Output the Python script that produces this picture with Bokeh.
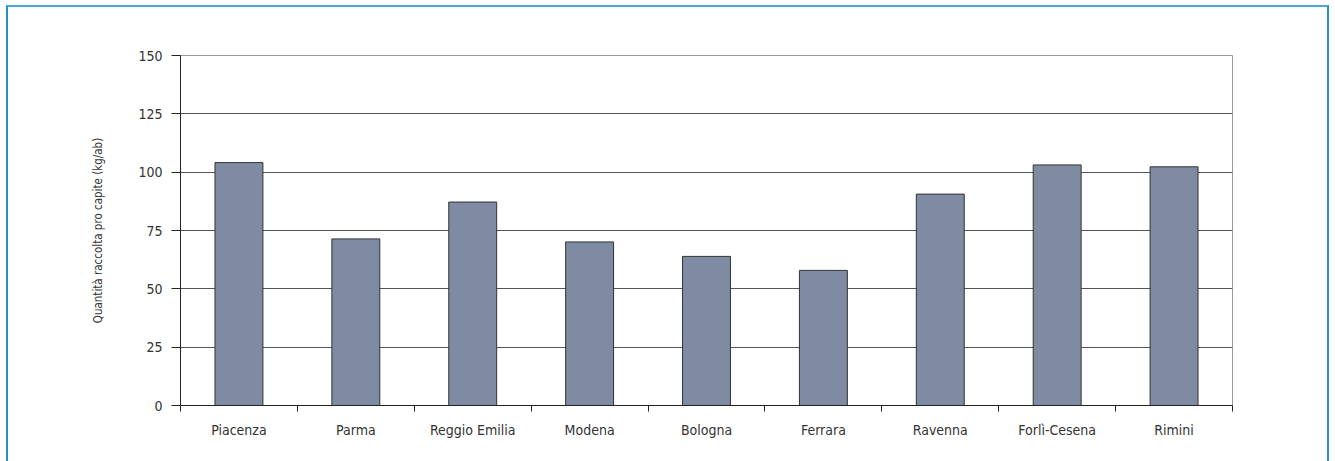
from bokeh.plotting import figure
from bokeh.models import FixedTicker, Range1d, ColumnDataSource
from bokeh.layouts import column
from bokeh.embed import file_html
from bokeh.resources import INLINE

categories = ["Piacenza", "Parma", "Reggio Emilia", "Modena", "Bologna",
              "Ferrara", "Ravenna", "Forlì-Cesena", "Rimini"]
values = [104.1, 71.4, 87.2, 70.1, 63.9, 57.9, 90.6, 103.1, 102.3]
y_ticks = [0, 25, 50, 75, 100, 125, 150]

FONT = "DejaVu Sans Condensed"
TXT = "#333333"

centers = [i + 0.5 for i in range(len(categories))]
src = ColumnDataSource(dict(x=centers, top=values))

p = figure(width=1319, height=454, output_backend="svg", toolbar_location=None,
           x_range=Range1d(0, len(categories)), y_range=Range1d(0, 150),
           min_border_left=172, min_border_right=95, min_border_top=48, min_border_bottom=56)

p.vbar(x="x", top="top", width=0.41, bottom=0, source=src,
       fill_color="#7f8ba3", line_color="#333333", line_width=1)

p.outline_line_color = "#999999"
p.xgrid.grid_line_color = None
p.ygrid.grid_line_color = "#555555"
p.ygrid.grid_line_width = 1
p.ygrid.ticker = FixedTicker(ticks=y_ticks)

p.yaxis.ticker = FixedTicker(ticks=y_ticks)
p.yaxis.major_tick_out = 9
p.yaxis.major_tick_in = 0
p.yaxis.minor_tick_line_color = None
p.yaxis.axis_line_color = "#222222"
p.yaxis.major_tick_line_color = "#222222"
p.yaxis.major_label_standoff = 9
p.yaxis.axis_label = "Quantità raccolta pro capite (kg/ab)"
p.yaxis.axis_label_standoff = 30
p.yaxis.axis_label_text_font = FONT
p.yaxis.axis_label_text_font_size = "11.5px"
p.yaxis.axis_label_text_font_style = "normal"
p.yaxis.axis_label_text_color = TXT

p.xaxis.ticker = FixedTicker(ticks=centers, minor_ticks=list(range(len(categories) + 1)))
p.xaxis.major_label_overrides = {c: n for c, n in zip(centers, categories)}
p.xaxis.major_tick_line_color = None
p.xaxis.major_tick_out = 6
p.xaxis.minor_tick_out = 6
p.xaxis.minor_tick_in = 0
p.xaxis.minor_tick_line_color = "#222222"
p.xaxis.axis_line_color = "#222222"
p.xaxis.major_label_standoff = 10

for ax in (p.xaxis, p.yaxis):
    ax.major_label_text_font = FONT
    ax.major_label_text_font_size = "14px"
    ax.major_label_text_color = TXT

p.background_fill_color = "white"
p.border_fill_color = "white"

layout = column(p, styles={"border-left": "2px solid #2a8fc4",
                           "border-top": "2px solid #4aa8d8",
                           "border-right": "2px solid #2a8fc4",
                           "margin-left": "6px", "margin-top": "5px"})

open("out.html", "w").write(file_html(layout, INLINE))
